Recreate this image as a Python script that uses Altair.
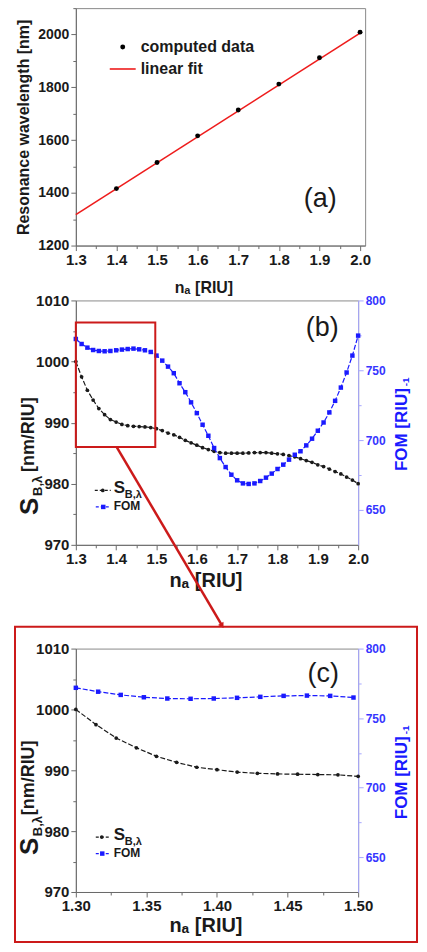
import altair as alt
import pandas as pd

FONT = "Liberation Sans"
BLUE = "#1a1aff"
RED = "#cc1a1a"
DARK = "#1a1a1a"
AXC = "#6a6a6a"
LBLUE = "#a8a8ff"

# ---------------- panel (a) data ----------------
a_x = [1.4, 1.5, 1.6, 1.7, 1.8, 1.9, 2.0]
a_y = [1416, 1515, 1616, 1714, 1812, 1912, 2009]
fit_x = [1.3, 2.0]
fit_y = [1317, 2005]
a_xticks = [1.3, 1.4, 1.5, 1.6, 1.7, 1.8, 1.9, 2.0]
a_xminor = [1.35, 1.45, 1.55, 1.65, 1.75, 1.85, 1.95]
a_yticks = [1200, 1400, 1600, 1800, 2000]
a_yminor = [1300, 1500, 1700, 1900, 2100]

# ---------------- panel (b) data ----------------
b_x = [1.3, 1.3143, 1.3286, 1.3429, 1.3571, 1.3714, 1.3857, 1.4, 1.4143, 1.4286,
       1.4429, 1.4571, 1.4714, 1.4857, 1.5, 1.5143, 1.5286, 1.5429, 1.5571, 1.5714,
       1.5857, 1.6, 1.6143, 1.6286, 1.6429, 1.6571, 1.6714, 1.6857, 1.7, 1.7143,
       1.7286, 1.7429, 1.7571, 1.7714, 1.7857, 1.8, 1.8143, 1.8286, 1.8429, 1.8571,
       1.8714, 1.8857, 1.9, 1.9143, 1.9286, 1.9429, 1.9571, 1.9714, 1.9857, 2.0]
b_s = [1000.0, 997.5, 995.3, 993.7, 992.3, 991.3, 990.5, 990.1, 989.7, 989.5,
       989.4, 989.35, 989.3, 989.2, 989.0, 988.7, 988.3, 988.0, 987.6, 987.1,
       986.7, 986.3, 985.9, 985.6, 985.3, 985.1, 985.0, 985.0, 985.0, 985.0,
       985.05, 985.1, 985.1, 985.1, 985.0, 984.9, 984.8, 984.6, 984.4, 984.1,
       983.8, 983.5, 983.1, 982.8, 982.4, 982.0, 981.6, 981.1, 980.6, 980.0]
b_fom = [772.4, 768.8, 766.2, 764.5, 763.8, 763.6, 763.8, 764.3, 764.8, 765.2,
         765.5, 765.0, 764.3, 763.1, 760.5, 756.9, 752.6, 747.9, 740.7, 734.3,
         727.0, 719.3, 711.0, 703.1, 694.3, 687.1, 680.7, 675.2, 671.2, 669.0,
         668.6, 669.0, 670.7, 673.1, 676.0, 679.3, 682.4, 686.0, 689.5, 692.0,
         696.2, 701.0, 706.7, 712.6, 719.8, 728.1, 737.6, 748.4, 760.5, 774.8]
b_xticks = [1.3, 1.4, 1.5, 1.6, 1.7, 1.8, 1.9, 2.0]
b_xminor = [1.35, 1.45, 1.55, 1.65, 1.75, 1.85, 1.95]
s_ticks = [970, 980, 990, 1000, 1010]
s_minor = [975, 985, 995, 1005]
fom_ticks = [650, 700, 750, 800]
fom_minor = [675, 725, 775]
zoom_box_x = [1.3, 1.497]
zoom_box_y = [986.0, 1006.4]
arrow_x = [1.4014, 1.6616]
arrow_y = [986.0, 956.9]

# ---------------- panel (c) data ----------------
c_sx = [1.3, 1.3143, 1.3286, 1.3429, 1.3571, 1.3714, 1.3857, 1.4, 1.4143, 1.4286,
        1.4429, 1.4571, 1.4714, 1.4857, 1.5]
c_s = [1000.0, 997.5, 995.3, 993.7, 992.3, 991.3, 990.5, 990.1, 989.7, 989.5,
       989.4, 989.35, 989.3, 989.25, 989.0]
c_fx = [1.3, 1.3158, 1.3318, 1.3482, 1.3648, 1.3813, 1.3977, 1.4142, 1.4307,
        1.4472, 1.4637, 1.4802, 1.4967]
c_fom = [771.8, 769.0, 766.7, 765.0, 764.1, 763.9, 764.1, 764.6, 765.3, 766.0,
         766.2, 766.0, 764.8]
c_xticks = [1.30, 1.35, 1.40, 1.45, 1.50]
c_xminor = [1.325, 1.375, 1.425, 1.475]
frame_x = [1.2569, 1.5417]
frame_y = [1013.6, 961.8]


def df(**cols):
    return pd.DataFrame(cols)


def txt(label, x, y, size, color=DARK, weight="bold", angle=0, align="left",
        baseline="middle"):
    kw = dict(font=FONT, fontSize=size, fontWeight=weight, color=color,
              align=align, baseline=baseline)
    if angle:
        kw["angle"] = angle
    return alt.Chart(df(label=[label])).mark_text(**kw).encode(
        text="label:N", x=alt.value(x), y=alt.value(y))


def legend_rule(x1, x2, y, color, dash=(3, 2), width=1.2):
    kw = dict(color=color, strokeWidth=width)
    if dash:
        kw["strokeDash"] = list(dash)
    return alt.Chart(df(k=[0])).mark_rule(**kw).encode(
        x=alt.value(x1), x2=alt.value(x2), y=alt.value(y))


def legend_pt(x, y, color, shape, size):
    return alt.Chart(df(k=[0])).mark_point(color=color, fill=color, filled=True,
                                           shape=shape, size=size, opacity=1).encode(
        x=alt.value(x), y=alt.value(y))


def X(scale, axis=None):
    return alt.X("x:Q", scale=scale, axis=axis)


def Y(scale, axis=None):
    return alt.Y("y:Q", scale=scale, axis=axis)


def minor_x(xscale, yscale, values, xs, ys):
    ax = alt.Axis(orient="bottom", values=values, labels=False, domain=False,
                  tickSize=3, title=None, tickColor=AXC)
    return alt.Chart(df(x=xs, y=ys)).mark_point(opacity=0).encode(
        x=X(xscale, ax), y=Y(yscale))


def minor_y(xscale, yscale, values, xs, ys, orient="left", color=AXC):
    ax = alt.Axis(orient=orient, values=values, labels=False, domain=False,
                  tickSize=3, title=None, tickColor=color)
    return alt.Chart(df(x=xs, y=ys)).mark_point(opacity=0).encode(
        x=X(xscale), y=Y(yscale, ax))


# ================= panel (a) =================
xa_scale = alt.Scale(domain=[1.3, 2.0125], nice=False, zero=False)
ya_scale = alt.Scale(domain=[1200, 2100], nice=False, zero=False)
xa_axis = alt.Axis(orient="bottom", values=a_xticks, format=".1f", title="nₐ [RIU]",
                   titleFontSize=16, titleX=128, labelFontSize=15, titlePadding=12)
ya_axis = alt.Axis(orient="left", values=a_yticks, format="d",
                   title="Resonance wavelength [nm]", titleFontSize=16,
                   labelFontSize=14, titlePadding=6)

fit = alt.Chart(df(x=fit_x, y=fit_y)).mark_line(color="#ee1c1c", strokeWidth=1.6).encode(
    x=X(xa_scale, xa_axis), y=Y(ya_scale, ya_axis))
pts = alt.Chart(df(x=a_x, y=a_y)).mark_circle(color="black", size=24, opacity=1).encode(
    x=X(xa_scale), y=Y(ya_scale))

panel_a = alt.layer(
    fit, pts,
    minor_x(xa_scale, ya_scale, a_xminor, a_x, a_y),
    minor_y(xa_scale, ya_scale, a_yminor, a_x, a_y),
    legend_pt(47, 39, "black", "circle", 24),
    txt("computed data", 65, 39, 16),
    legend_rule(34, 60, 61, "#ee1c1c", dash=None, width=1.6),
    txt("linear fit", 65, 61, 16),
    txt("(a)", 245, 191, 27, weight="normal", align="center"),
).resolve_axis(x="independent", y="independent").properties(width=290, height=238)

# ================= panels (b) and (c) helpers =================
sy_b = alt.Scale(domain=[970, 1010], nice=False, zero=False)
fy_b = alt.Scale(domain=[625, 800], nice=False, zero=False)


def s_axis():
    return alt.Axis(orient="left", values=s_ticks, format="d", title=None, labelFontSize=15)


def f_axis():
    return alt.Axis(orient="right", values=fom_ticks, format="d", title=None,
                    labelFontSize=12, labelColor="#3535ff", domainColor=LBLUE,
                    tickColor=LBLUE)


def series(xs, ys, xscale, yscale, color, shape, size, xaxis=None, yaxis=None):
    d = df(x=xs, y=ys)
    line = alt.Chart(d).mark_line(color=color, strokeWidth=1.2, strokeDash=[5, 2]).encode(
        x=X(xscale, xaxis), y=Y(yscale, yaxis))
    pt = alt.Chart(d).mark_point(color=color, fill=color, filled=True, shape=shape,
                                 size=size, opacity=1).encode(
        x=X(xscale), y=Y(yscale))
    return [line, pt]


def rect_layer(xscale, yscale, bx, by):
    return (alt.Chart(df(x=[bx[0]], x2=[bx[1]], y=[by[0]], y2=[by[1]]))
            .mark_rect(filled=False, stroke=RED, strokeWidth=2)
            .encode(x=X(xscale), x2="x2:Q", y=Y(yscale), y2="y2:Q"))


# ================= panel (b) =================
xb_scale = alt.Scale(domain=[1.3, 2.0], nice=False, zero=False)
xb_axis = alt.Axis(orient="bottom", values=b_xticks, format=".1f", title="nₐ [RIU]",
                   titleFontSize=20, titleX=130, labelFontSize=15, titlePadding=4)

b_layers = []
b_layers += series(b_x, b_s, xb_scale, sy_b, DARK, "circle", 14, xb_axis, s_axis())
b_layers += series(b_x, b_fom, xb_scale, fy_b, BLUE, "square", 20, None, f_axis())
b_layers += [
    minor_x(xb_scale, sy_b, b_xminor, b_x, b_s),
    minor_y(xb_scale, sy_b, s_minor, b_x, b_s),
    minor_y(xb_scale, fy_b, fom_minor, b_x, b_fom, orient="right", color=LBLUE),
    rect_layer(xb_scale, sy_b, zoom_box_x, zoom_box_y),
    alt.Chart(df(x=[arrow_x[0]], x2=[arrow_x[1]], y=[arrow_y[0]], y2=[arrow_y[1]]))
    .mark_rule(color=RED, strokeWidth=2.5)
    .encode(x=X(xb_scale), x2="x2:Q", y=Y(sy_b), y2="y2:Q"),
    alt.Chart(df(x=[arrow_x[1]], y=[arrow_y[1]]))
    .mark_point(shape="triangle", angle=149.4, size=40, color=RED, fill=RED,
                filled=True, opacity=1)
    .encode(x=X(xb_scale), y=Y(sy_b)),
    legend_rule(19, 35, 190.5, DARK), legend_pt(27, 190.5, DARK, "circle", 14),
    txt("S", 38, 188, 17), txt("B,λ", 49, 195, 11),
    legend_rule(20, 35, 207, BLUE), legend_pt(27.5, 207, BLUE, "square", 20),
    txt("FOM", 38, 206, 12),
    txt("(b)", 247, 28, 27, weight="normal", align="center"),
    txt("S", -38, 215, 26, angle=270, baseline="alphabetic"),
    txt("B,λ", -34, 196, 13, angle=270, baseline="alphabetic"),
    txt("[nm/RIU]", -42, 172, 18, angle=270, baseline="alphabetic"),
    txt("FOM [RIU]", 332, 171, 17, color=BLUE, angle=270, baseline="alphabetic"),
    txt("-1", 334, 86, 10, color=BLUE, angle=270, baseline="alphabetic"),
]
panel_b = (alt.layer(*b_layers)
           .resolve_scale(y="independent")
           .resolve_axis(x="independent", y="independent")
           .properties(width=283, height=245))

# ================= panel (c) =================
xc_scale = alt.Scale(domain=[1.3, 1.5], nice=False, zero=False)
xc_axis = alt.Axis(orient="bottom", values=c_xticks, format=".2f", title="nₐ [RIU]",
                   titleFontSize=20, titleX=130, labelFontSize=15, titlePadding=2)
c_layers = []
c_layers += series(c_sx, c_s, xc_scale, sy_b, DARK, "circle", 14, xc_axis, s_axis())
c_layers += series(c_fx, c_fom, xc_scale, fy_b, BLUE, "square", 20, None, f_axis())
c_layers += [
    minor_x(xc_scale, sy_b, c_xminor, c_sx, c_s),
    minor_y(xc_scale, sy_b, s_minor, c_sx, c_s),
    minor_y(xc_scale, fy_b, fom_minor, c_fx, c_fom, orient="right", color=LBLUE),
    rect_layer(xc_scale, sy_b, frame_x, frame_y),
    legend_rule(20, 33, 189, DARK), legend_pt(26, 189, DARK, "circle", 14),
    txt("S", 38, 186.5, 17), txt("B,λ", 49, 193.5, 11),
    legend_rule(20, 33, 205.5, BLUE), legend_pt(26.5, 205.5, BLUE, "square", 20),
    txt("FOM", 38, 205, 12),
    txt("(c)", 248, 26, 27, weight="normal", align="center"),
    txt("S", -38, 207, 26, angle=270, baseline="alphabetic"),
    txt("B,λ", -34, 188, 13, angle=270, baseline="alphabetic"),
    txt("[nm/RIU]", -42, 167, 18, angle=270, baseline="alphabetic"),
    txt("FOM [RIU]", 332, 171, 17, color=BLUE, angle=270, baseline="alphabetic"),
    txt("-1", 334, 86, 10, color=BLUE, angle=270, baseline="alphabetic"),
]
panel_c = (alt.layer(*c_layers)
           .resolve_scale(y="independent")
           .resolve_axis(x="independent", y="independent")
           .properties(width=283, height=244))

chart = (
    alt.vconcat(panel_a, panel_b, panel_c, spacing=-4)
    .properties(padding={"left": 5, "top": -2, "right": 0, "bottom": 0})
    .configure_view(stroke="#8a8a8a", strokeWidth=1)
    .configure_axis(
        labelFont=FONT, titleFont=FONT, labelFontWeight="bold", titleFontWeight="bold",
        labelColor=DARK, titleColor=DARK, domainColor=AXC, tickColor=AXC,
        tickSize=5, labelPadding=2, grid=False, labelFlush=False,
    )
)

chart.save("out.html", embed_options={"renderer": "svg", "actions": False})
